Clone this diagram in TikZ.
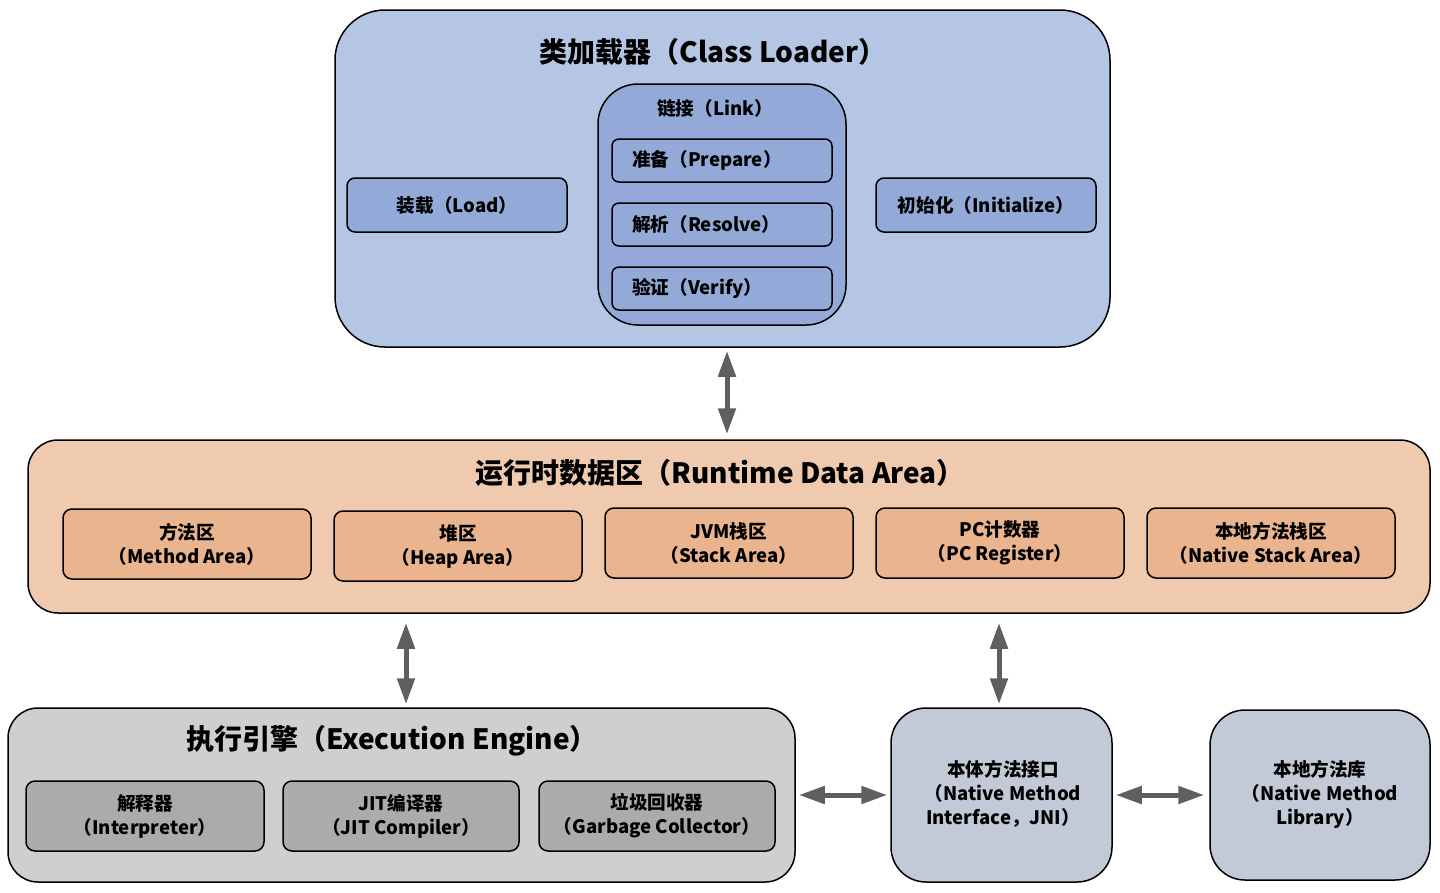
\documentclass[tikz,border=0pt]{standalone}
\usepackage{fontspec}
\setmainfont{Noto Sans CJK SC}
\usetikzlibrary{arrows.meta}
\definecolor{clout}{HTML}{B5C6E5}
\definecolor{clin}{HTML}{93AAD9}
\definecolor{rtout}{HTML}{EFCAAE}
\definecolor{rtin}{HTML}{E9B48E}
\definecolor{eeout}{HTML}{D0CED0}
\definecolor{eein}{HTML}{ABABAB}
\definecolor{nat}{HTML}{C2CAD8}
\definecolor{arr}{HTML}{5F5F5F}
\begin{document}
\begin{tikzpicture}[x=1pt,y=-1pt,
  rbox/.style={draw=black, line width=1.5pt, rounded corners=#1, inner sep=0pt},
  ttl/.style={font=\fontsize{28}{32}\selectfont\bfseries, inner sep=0pt},
  sub/.style={font=\fontsize{18.6}{24}\selectfont\bfseries, align=center, inner sep=0pt},
  dbl/.style={arr, line width=5pt, {Triangle[length=26pt,width=17pt]}-{Triangle[length=26pt,width=17pt]}}
]
\useasboundingbox (0,0) rectangle (1440,892);

% Class loader
\node[rbox=50pt, fill=clout, minimum width=775pt, minimum height=337pt] (cl) at (722.5,178.5) {};
\node[ttl] (clt) at (713,52) {类加载器（Class Loader）};
\node[rbox=8pt, fill=clin, minimum width=220pt, minimum height=54pt] (load) at (457,205) {};
\node[sub] at (load.center) {装载（Load）};
\node[rbox=8pt, fill=clin, minimum width=220pt, minimum height=54pt] (init) at (986,205) {};
\node[sub] at (init.center) {初始化（Initialize）};
\node[rbox=40pt, fill=clin, minimum width=248pt, minimum height=241pt] (link) at (722,204.5) {};
\node[sub] (linkt) at (715,108) {链接（Link）};
\node[rbox=7pt, fill=clin, minimum width=220pt, minimum height=43pt] (prep) at (722,160.5) {};
\node[sub, anchor=west] at (632,160) {准备（Prepare）};
\node[rbox=7pt, fill=clin, minimum width=220pt, minimum height=43pt] (res) at (722,224.5) {};
\node[sub, anchor=west] at (632,224) {解析（Resolve）};
\node[rbox=7pt, fill=clin, minimum width=220pt, minimum height=43pt] (ver) at (722,288.5) {};
\node[sub, anchor=west] at (632,288) {验证（Verify）};

% Runtime data area
\node[rbox=30pt, fill=rtout, minimum width=1402pt, minimum height=173pt] (rt) at (729,526.5) {};
\node[ttl] (rtt) at (720,473) {运行时数据区（Runtime Data Area）};
\node[rbox=9pt, fill=rtin, minimum width=248pt, minimum height=70pt] (ma) at (187,544) {};
\node[sub] at (ma.center) {方法区\\（Method Area）};
\node[rbox=9pt, fill=rtin, minimum width=248pt, minimum height=70pt] (ha) at (458,546) {};
\node[sub] at (ha.center) {堆区\\（Heap Area）};
\node[rbox=9pt, fill=rtin, minimum width=248pt, minimum height=70pt] (sa) at (729,543) {};
\node[sub] at (sa.center) {JVM栈区\\（Stack Area）};
\node[rbox=9pt, fill=rtin, minimum width=248pt, minimum height=70pt] (pc) at (1000,543) {};
\node[sub] at (pc.center) {PC计数器\\（PC Register）};
\node[rbox=9pt, fill=rtin, minimum width=248pt, minimum height=70pt] (ns) at (1271,543) {};
\node[sub] at (ns.center) {本地方法栈区\\（Native Stack Area）};

% Execution engine
\node[rbox=30pt, fill=eeout, minimum width=787pt, minimum height=174pt] (ee) at (401.5,795) {};
\node[ttl] (eet) at (392,741) {执行引擎（Execution Engine）};
\node[rbox=9pt, fill=eein, minimum width=238pt, minimum height=70pt] (ip) at (145,816) {};
\node[sub] at (ip.center) {解释器\\（Interpreter）};
\node[rbox=9pt, fill=eein, minimum width=236pt, minimum height=70pt] (jit) at (401,816) {};
\node[sub] at (jit.center) {JIT编译器\\（JIT Compiler）};
\node[rbox=9pt, fill=eein, minimum width=236pt, minimum height=70pt] (gc) at (657,816) {};
\node[sub] at (gc.center) {垃圾回收器\\（Garbage Collector）};

% Native
\node[rbox=35pt, fill=nat, minimum width=221pt, minimum height=174pt] (jni) at (1001.5,795) {};
\node[sub] at (1003,794) {本体方法接口\\（Native Method\\Interface，JNI）};
\node[rbox=35pt, fill=nat, minimum width=220pt, minimum height=170pt] (lib) at (1320,795) {};
\node[sub] at (1320,794) {本地方法库\\（Native Method\\Library）};

% Arrows
\draw[dbl, shorten <=3pt, shorten >=5pt] ([xshift=4.5pt]cl.south) -- ([xshift=4.5pt]cl.south |- rt.north);
\draw[dbl, shorten <=3pt, shorten >=9pt] (ee.north -| 406,0) -- (rt.south -| 406,0);
\draw[dbl, shorten <=9pt, shorten >=3pt] (rt.south -| jni.north) ++(-2.5,0) -- ([xshift=-2.5pt]jni.north);
\draw[dbl, shorten <=3pt, shorten >=3pt] (ee.east) -- (jni.west);
\draw[dbl, shorten <=3pt, shorten >=5pt] (jni.east) -- (lib.west);
\end{tikzpicture}
\end{document}
